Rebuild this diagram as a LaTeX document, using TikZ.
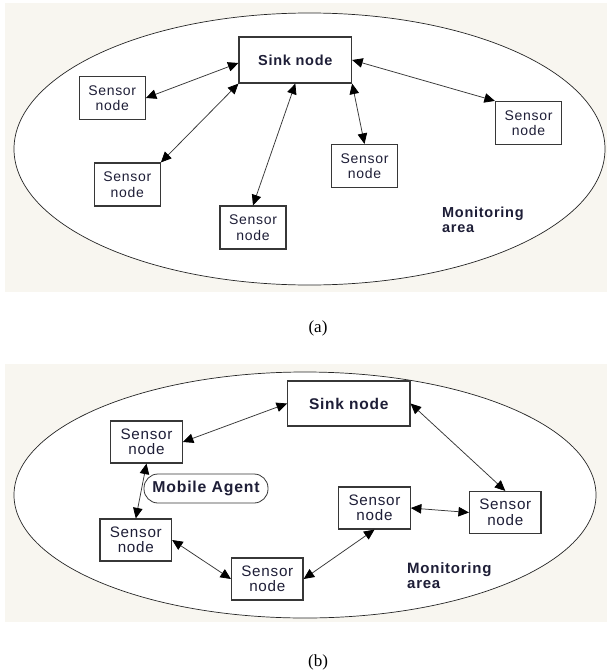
\documentclass[tikz,border=0pt]{standalone}
\usepackage{fontspec}
\setmainfont{Liberation Sans}
\newfontfamily\labfont[LetterSpace=5]{Liberation Sans}
\newfontfamily\capfont{Liberation Serif}
\usetikzlibrary{arrows.meta,calc}
\definecolor{paper}{RGB}{248,246,240}
\definecolor{ink}{RGB}{30,30,55}
\definecolor{edge}{RGB}{55,55,55}

\begin{document}
\begin{tikzpicture}[x=1pt,y=-1pt,
  box/.style={draw=edge,line width=1.2pt,fill=white,inner sep=0pt,align=center,text=ink},
  sensorA/.style={box,minimum width=66pt,minimum height=43pt,
    font=\labfont\fontsize{14}{15.5}\selectfont},
  sensorB/.style={box,minimum width=71.5pt,minimum height=42pt,
    font=\labfont\fontsize{15.2}{15.5}\selectfont},
  sinkA/.style={box,minimum width=112.5pt,minimum height=46pt,
    font=\labfont\bfseries\fontsize{14.5}{15}\selectfont},
  sinkB/.style={box,minimum width=122.4pt,minimum height=45pt,
    font=\labfont\bfseries\fontsize{15.5}{16}\selectfont},
  agent/.style={box,line width=0.8pt,rounded corners=14pt,minimum width=124pt,minimum height=29pt,
    font=\labfont\bfseries\fontsize{15.8}{16}\selectfont},
  area/.style={anchor=west,align=left,inner sep=0pt,text=ink},
  areaA/.style={area,font=\labfont\bfseries\fontsize{14.5}{15.5}\selectfont},
  areaB/.style={area,font=\labfont\bfseries\fontsize{15}{15.5}\selectfont},
  field/.style={draw=black!85,line width=0.7pt,fill=white},
  link/.style={draw=edge,line width=0.75pt,
    {Triangle[length=10.5pt,width=9.5pt,black]}-{Triangle[length=10.5pt,width=9.5pt,black]}},
  caption/.style={font=\capfont\fontsize{17}{18}\selectfont,inner sep=0pt}
]
\useasboundingbox (0,0) rectangle (607,672);
\fill[white] (0,0) rectangle (607,672);

% ---------- panel (a): direct links to the sink ----------
\fill[paper] (5,3) rectangle (607,292);
\draw[field] (309.5,149) ellipse [x radius=295.5, y radius=136];

\node[sinkA] (sinkA) at (295.3,60) {Sink node};
\node[sensorA] (a1) at (112.2,98) {Sensor\\node};
\node[sensorA] (a2) at (127.3,184.5) {Sensor\\node};
\node[sensorA] (a3) at (253,227.5) {Sensor\\node};
\node[sensorA] (a4) at (364.5,166) {Sensor\\node};
\node[sensorA] (a5) at (528.5,123) {Sensor\\node};
\node[areaA] (areaA) at (442,220) {Monitoring\\area};

\draw[link] ($(sinkA.west)+(0,3)$) -- (a1.east);
\draw[link] (sinkA.south west) -- (a2.north east);
\draw[link] (sinkA.south) -- (a3.north);
\draw[link] (sinkA.south east) -- (a4.north);
\draw[link] (sinkA.east) -- (a5.north west);

\node[caption] (capA) at (318,328) {(a)};

% ---------- panel (b): multi-hop path with a mobile agent ----------
\fill[paper] (5,364) rectangle (607,622);
\draw[field] (305,495) ellipse [x radius=291, y radius=123];

\node[sinkB] (sinkB) at (348.8,403.5) {Sink node};
\node[sensorB] (b1) at (146.5,442) {Sensor\\node};
\node[agent] (agent) at (206,488.5) {Mobile Agent};
\node[sensorB] (b2) at (135.8,540) {Sensor\\node};
\node[sensorB] (b3) at (267.3,579) {Sensor\\node};
\node[sensorB] (b4) at (374.5,508) {Sensor\\node};
\node[sensorB] (b5) at (505.3,512.5) {Sensor\\node};
\node[areaB] (areaB) at (407,575.5) {Monitoring\\area};

\draw[link] (sinkB.west) -- (b1.east);
\draw[link] (b1.south) -- (b2.north);
\draw[link] (b2.east) -- (b3.west);
\draw[link] (b3.east) -- (b4.south);
\draw[link] (b4.east) -- (b5.west);
\draw[link] (sinkB.east) -- (b5.north);

\node[caption] (capB) at (318,662) {(b)};
\end{tikzpicture}
\end{document}
